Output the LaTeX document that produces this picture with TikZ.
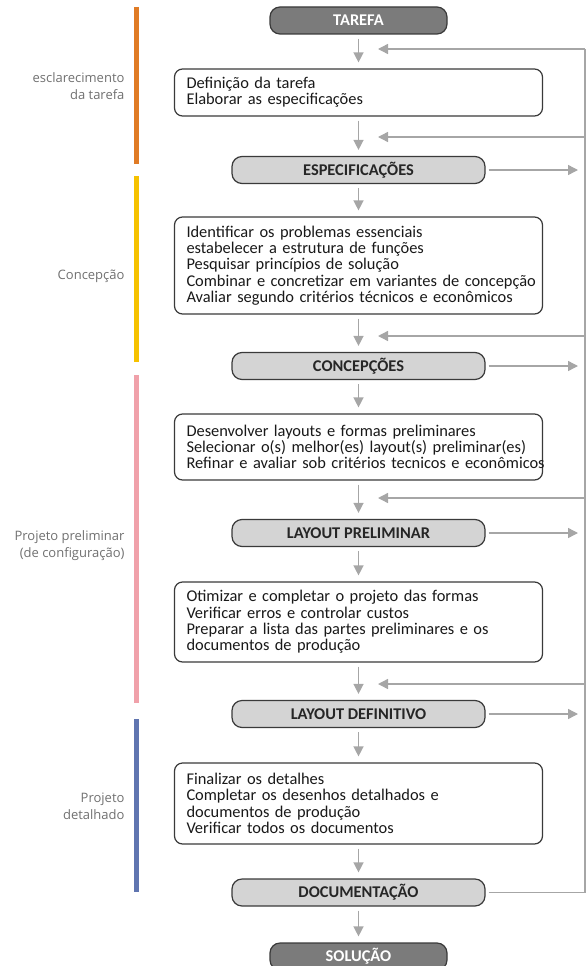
\documentclass[tikz,border=0pt]{standalone}
\usepackage{fontspec}
\setmainfont{Carlito}
\newfontfamily\etapafont{Open Sans}
\usetikzlibrary{arrows.meta}

\definecolor{setacinza}{HTML}{A6A6A6}
\definecolor{bordacinza}{HTML}{3A3A3A}
\definecolor{marcocinza}{HTML}{D4D4D4}
\definecolor{extremocinza}{HTML}{7B7B7B}
\definecolor{textocinza}{HTML}{707070}
\definecolor{faselaranja}{HTML}{E07B25}
\definecolor{faseamarelo}{HTML}{F6C200}
\definecolor{faserosa}{HTML}{F0A1AA}
\definecolor{faseazul}{HTML}{6075B0}

\begin{document}
\begin{tikzpicture}[x=1pt,y=-1pt,
  seta/.style={draw=setacinza,line width=1.4pt,-{Triangle[length=10pt,width=10pt]}},
  linha/.style={draw=setacinza,line width=1.4pt},
  fase/.style={draw=bordacinza,line width=1.2pt,rounded corners=8pt,fill=white,
    text width=344pt,inner xsep=12pt,inner ysep=2pt,align=left,text=black!90,
    font=\fontsize{16.4}{16.3}\selectfont},
  marco/.style={draw=bordacinza,line width=1.2pt,rounded corners=10pt,fill=marcocinza,
    minimum width=253pt,minimum height=27pt,inner sep=0pt,text=black!85,
    font=\bfseries\fontsize{16.4}{17}\selectfont},
  extremo/.style={marco,fill=extremocinza,minimum width=177pt,text=white},
  etapa/.style={anchor=east,align=right,text=textocinza,
    font=\etapafont\fontsize{13}{17}\selectfont}]

\useasboundingbox (0,0) rectangle (587,966);

\draw[line width=5pt,faselaranja] (136,7) -- (136,164);
\draw[line width=5pt,faseamarelo] (136,176) -- (136,362);
\draw[line width=5pt,faserosa] (136,375) -- (136,703);
\draw[line width=5pt,faseazul] (136,719) -- (136,892);

\node[etapa] (esclarec) at (128,86) {esclarecimento\\da tarefa};
\node[etapa] (concepcao) at (128,276) {Concepção};
\node[etapa] (preliminar) at (128,546) {Projeto preliminar\\(de configuração)};
\node[etapa] (detalhado) at (128,806) {Projeto\\detalhado};

\node[extremo] (tarefa) at (358.5,20.5) {TAREFA};
\node[fase,minimum height=47pt] (definir) at (358.5,92.5)
  {Definição da tarefa\\Elaborar as especificações};
\node[marco] (espec) at (358.5,170) {ESPECIFICAÇÕES};
\node[fase,minimum height=97pt] (identificar) at (358.5,265.5)
  {Identificar os problemas essenciais\\estabelecer a estrutura de funções\\Pesquisar princípios de solução\\\mbox{Combinar e concretizar em variantes de concepção}\\\mbox{Avaliar segundo critérios técnicos e econômicos}};
\node[marco] (concep) at (358.5,366) {CONCEPÇÕES};
\node[fase,minimum height=66pt] (desenvolver) at (358.5,447)
  {Desenvolver layouts e formas preliminares\\\mbox{Selecionar o(s) melhor(es) layout(s) preliminar(es)}\\\mbox{Refinar e avaliar sob critérios tecnicos e econômicos}};
\node[marco] (lprelim) at (358.5,533) {LAYOUT PRELIMINAR};
\node[fase,minimum height=80pt] (otimizar) at (358.5,622)
  {Otimizar e completar o projeto das formas\\Verificar erros e controlar custos\\\mbox{Preparar a lista das partes preliminares e os}\\documentos de produção};
\node[marco] (ldefin) at (358.5,714) {LAYOUT DEFINITIVO};
\node[fase,minimum height=81pt] (finalizar) at (358.5,803.5)
  {Finalizar os detalhes\\Completar os desenhos detalhados e\\documentos de produção\\Verificar todos os documentos};
\node[marco] (doc) at (358.5,892.5) {DOCUMENTAÇÃO};
\node[extremo] (solucao) at (358.5,956.5) {SOLUÇÃO};

\foreach \a/\b in {tarefa/definir,definir/espec,espec/identificar,identificar/concep,
  concep/desenvolver,desenvolver/lprelim,lprelim/otimizar,otimizar/ldefin,
  ldefin/finalizar,finalizar/doc,doc/solucao}
  \draw[seta,shorten <=4pt,shorten >=6pt] (\a) -- (\b);

\coordinate (retorno) at (585,49);
\coordinate (saida) at (578,0);
\draw[linha] ([xshift=3pt]doc.east) -| (retorno);
\foreach \y [count=\i] in {49,137,336,498,684} {
  \coordinate (volta\i) at (retorno |- 0,\y);
  \coordinate (ponta\i) at (378,\y);
  \draw[seta] (volta\i) -- (ponta\i);
}
\foreach \m in {espec,concep,lprelim,ldefin}
  \draw[seta,shorten <=3pt] (\m.east) -- (\m.east -| saida);
\end{tikzpicture}
\end{document}
